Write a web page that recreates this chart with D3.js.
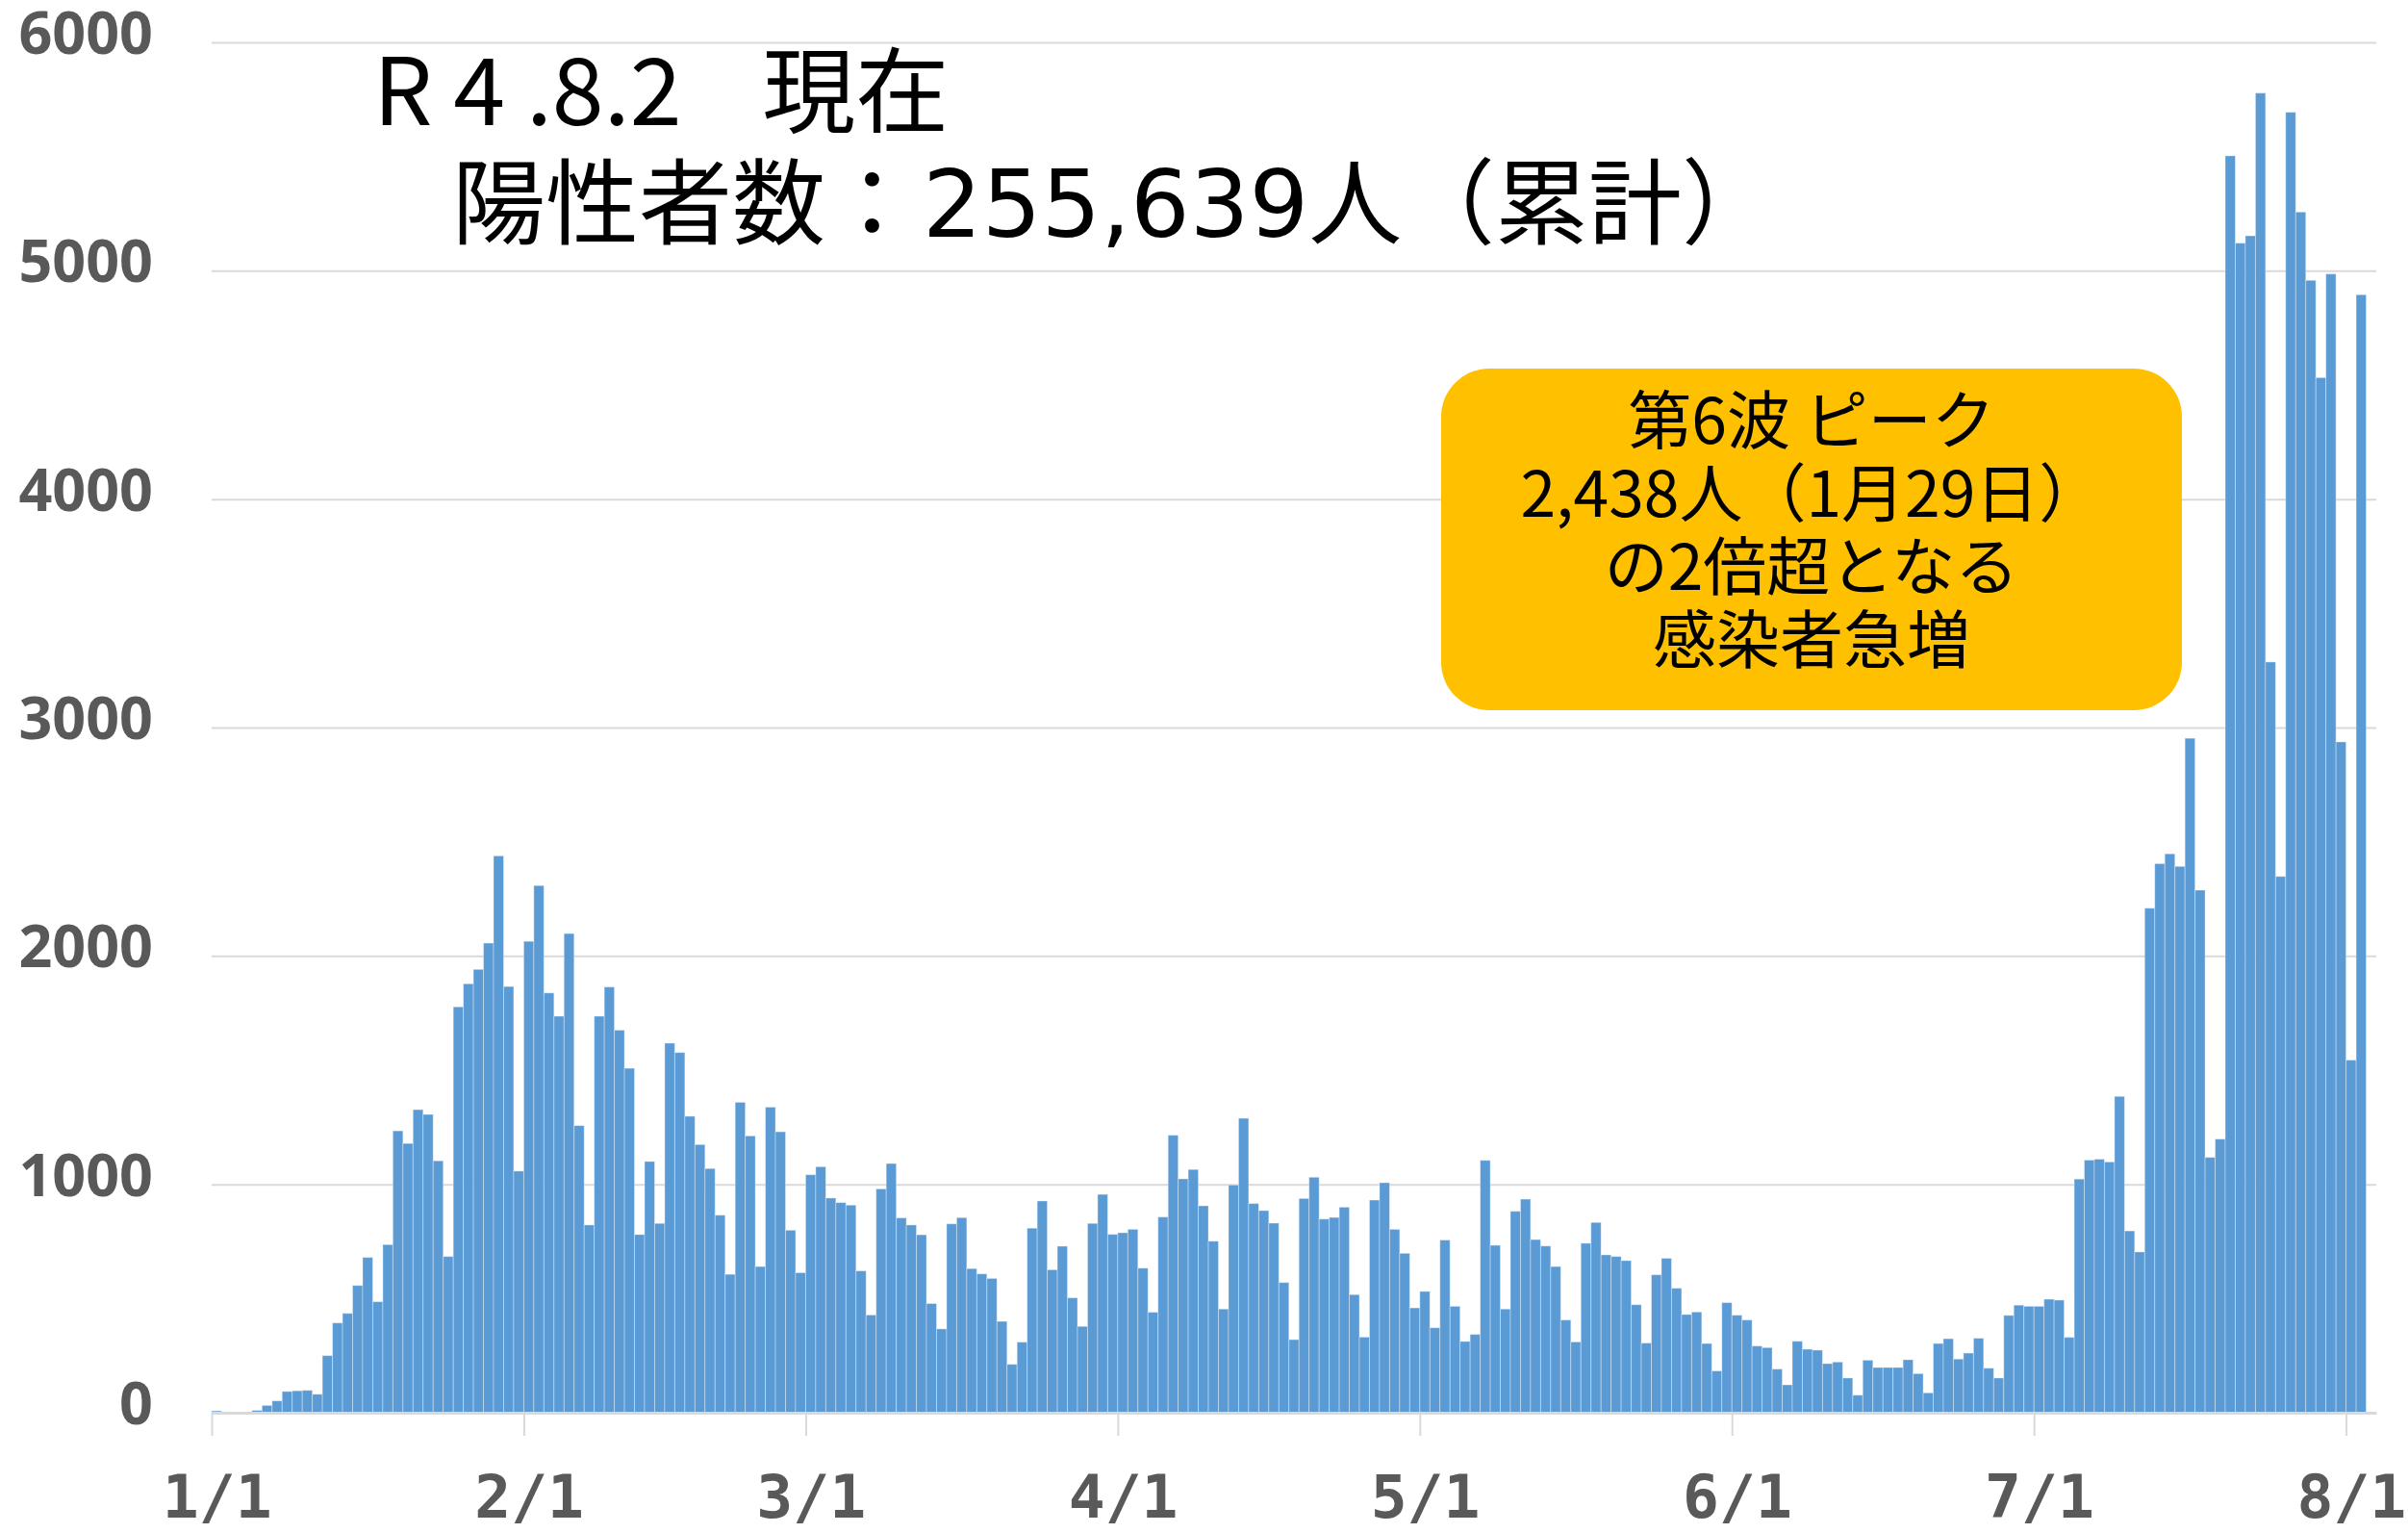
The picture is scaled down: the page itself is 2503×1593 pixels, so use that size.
<!DOCTYPE html>
<html>
<head>
<meta charset="utf-8">
<script src="https://cdn.jsdelivr.net/npm/d3@7"></script>
<style>
  body { margin: 0; background: #ffffff; }
  svg { display: block; }
</style>
</head>
<body>
<script>
// Daily new positive cases, 2022-01-01 .. 2022-08-02
var janCases = [8, 0, 0, 0, 10, 32, 52, 93, 96, 98, 81, 250, 393, 435, 557, 680, 486, 736, 1234, 1179,
    1327, 1306, 1103, 684, 1777, 1878, 1941, 2056, 2438, 1866, 1058];
var febCases = [2064, 2308, 1838, 1736, 2098, 1257, 822, 1736, 1864, 1675, 1508, 780, 1100, 829, 1618,
    1577, 1298, 1174, 1069, 865, 606, 1359, 1212, 640, 1338, 1230, 799, 613];
var marCases = [1042, 1077, 940, 920, 909, 621, 428, 980, 1091, 853, 822, 779, 478, 367, 827, 854, 631,
    608, 588, 400, 212, 309, 808, 927, 626, 729, 503, 378, 829, 956, 781];
var aprCases = [788, 803, 633, 440, 857, 1215, 1024, 1065, 906, 751, 454, 997, 1289, 916, 885, 830, 570,
    320, 938, 1031, 848, 855, 900, 517, 331, 931, 1007, 803, 698, 459];
var mayCases = [531, 372, 756, 466, 312, 343, 1105, 733, 454, 882, 935, 758, 730, 640, 406, 310, 742,
    833, 691, 684, 666, 473, 305, 604, 676, 545, 430, 441, 303, 183, 482];
var junCases = [427, 406, 292, 285, 191, 122, 313, 278, 274, 215, 222, 152, 77, 230, 198, 198, 198, 232,
    171, 87, 303, 324, 235, 261, 326, 195, 152, 426, 471, 466];
var julCases = [466, 497, 493, 330, 1023, 1106, 1110, 1098, 1385, 796, 704, 2209, 2404, 2447, 2392, 2953,
    2288, 1118, 1198, 5503, 5121, 5153, 5778, 3287, 2348, 5694, 5257, 4958, 4532, 4986, 2937];
var augCases = [1544, 4895];

var yTicks = [0, 1000, 2000, 3000, 4000, 5000, 6000];
var monthLabels = ["1/1", "2/1", "3/1", "4/1", "5/1", "6/1", "7/1", "8/1"];

// title pieces: the number part is set in a wider latin face
var titleLine1 = ["R 4 .8.2 ", "現在"];
var titleLine2 = ["陽性者数：", "255,639", "人（累計）"];
var noteLines = ["第6波 ピーク", "2,438人（1月29日）", "の2倍超となる", "感染者急増"];

// axis runs one empty slot past the last bar
var startDate = new Date(2022, 0, 1);
var endDate = new Date(2022, 7, 4);

var allCases = [].concat(janCases, febCases, marCases, aprCases, mayCases, junCases, julCases, augCases);
var data = allCases.map(function(v, i) {
    return { date: d3.timeDay.offset(startDate, i), value: v };
});
var monthStarts = d3.timeMonth.range(startDate, new Date(2022, 7, 2));

var W = 2503, H = 1593;
var margin = { top: 44, bottom: 125, left: 220, right: 33 };

var svg = d3.select("body").append("svg")
    .attr("width", W)
    .attr("height", H);

svg.append("rect").attr("width", W).attr("height", H).attr("fill", "#ffffff");

var x = d3.scaleTime()
    .domain([startDate, endDate])
    .range([margin.left, W - margin.right]);

var y = d3.scaleLinear()
    .domain([0, 6000])
    .range([H - margin.bottom, margin.top]);

var dayW = x(d3.timeDay.offset(startDate, 1)) - x(startDate);

// gridlines + y labels
var yAxis = svg.append("g")
    .attr("transform", "translate(" + margin.left + ",0)")
    .call(d3.axisLeft(y)
        .tickValues(yTicks)
        .tickSize(-(W - margin.right - margin.left))
        .tickPadding(61)
        .tickFormat(d3.format("d")));
yAxis.select(".domain").remove();
yAxis.selectAll(".tick line")
    .attr("stroke", "#d9d9d9")
    .attr("stroke-width", 2);
yAxis.selectAll(".tick text")
    .attr("dy", 11.5)
    .attr("fill", "#595959")
    .style("font-family", "'Open Sans', sans-serif")
    .style("font-weight", 700)
    .style("font-size", "61px");

// bars
svg.append("g").selectAll("rect")
    .data(data)
    .enter()
    .append("rect")
    .attr("x", function(d) { return x(d.date); })
    .attr("width", dayW)
    .attr("y", function(d) { return y(d.value); })
    .attr("height", function(d) { return y(0) - y(d.value); })
    .attr("fill", "#5b9bd5")
    .attr("stroke", "#ffffff")
    .attr("stroke-opacity", 0.35)
    .attr("stroke-width", 1);

// x axis
var xAxis = svg.append("g")
    .attr("transform", "translate(0," + y(0) + ")")
    .call(d3.axisBottom(x)
        .tickValues(monthStarts)
        .tickSize(24)
        .tickSizeOuter(0)
        .tickPadding(40)
        .tickFormat(function(d, i) { return monthLabels[i]; }));
xAxis.select(".domain")
    .attr("stroke", "#d9d9d9")
    .attr("stroke-width", 3);
xAxis.selectAll(".tick line")
    .attr("stroke", "#d9d9d9")
    .attr("stroke-width", 2);
xAxis.selectAll(".tick text")
    .attr("x", dayW / 2)
    .attr("dy", "0.71em")
    .attr("fill", "#595959")
    .style("font-family", "'DejaVu Sans Mono', monospace")
    .style("font-weight", 700)
    .style("font-size", "63px");

// title
var title = svg.append("g")
    .style("font-family", "'Noto Sans CJK JP', sans-serif")
    .style("font-size", "97px")
    .attr("fill", "#000000");
var t1 = title.append("text").attr("x", 388).attr("y", 130);
t1.append("tspan").text(titleLine1[0]);
t1.append("tspan").attr("dx", 62).text(titleLine1[1]);
var t2 = title.append("text").attr("x", 470).attr("y", 246);
t2.append("tspan").text(titleLine2[0]);
t2.append("tspan").style("font-family", "'DejaVu Sans', sans-serif").attr("dx", 4).text(titleLine2[1]);
t2.append("tspan").text(titleLine2[2]);

// annotation box
var note = svg.append("g");
note.append("rect")
    .attr("x", 1498)
    .attr("y", 383)
    .attr("width", 770)
    .attr("height", 355)
    .attr("rx", 50)
    .attr("ry", 50)
    .attr("fill", "#ffc000");
note.selectAll("text")
    .data(noteLines)
    .enter()
    .append("text")
    .attr("x", 1883)
    .attr("y", function(d, i) { return 461 + i * 76; })
    .attr("text-anchor", "middle")
    .style("font-family", "'Noto Sans CJK JP', sans-serif")
    .style("font-size", "66px")
    .attr("fill", "#000000")
    .text(function(d) { return d; });
</script>
</body>
</html>
